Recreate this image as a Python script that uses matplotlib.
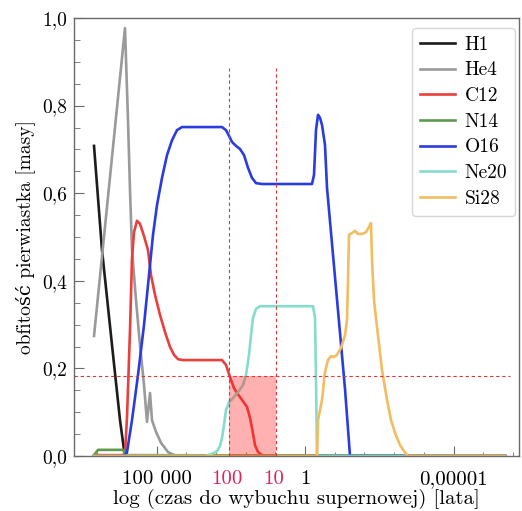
import matplotlib
matplotlib.use("Agg")
import matplotlib.pyplot as plt
from matplotlib.ticker import FixedLocator, MultipleLocator

plt.rcParams['font.family'] = ['cmr10', 'DejaVu Serif']
plt.rcParams['axes.formatter.use_mathtext'] = True

# x axis: -log10(time to supernova [years]); y: mass fraction
X_END = 6.734

h1_x = [-7.104, -6.835, -6.498, -6.229, -6.094, -6.027, X_END]
h1_y = [0.708, 0.470, 0.253, 0.082, 0.014, 0.0, 0.0]

he4_x = [-7.104, -6.061, -5.960, -5.892, -5.825, -5.690, -5.556, -5.421, -5.320,
         -5.219, -5.152, -5.017, -4.848, -4.613, -4.343, X_END]
he4_y = [0.274, 0.977, 0.767, 0.607, 0.470, 0.356, 0.253, 0.162, 0.078,
         0.144, 0.082, 0.055, 0.030, 0.009, 0.0, 0.0]

c12_x = [-7.104, -6.162, -6.061, -5.993, -5.892, -5.825, -5.758, -5.657, -5.556,
         -5.421, -5.286, -5.185, -5.051, -4.882, -4.714, -4.545, -4.411, -4.276,
         -4.108, -2.795, -2.660, -2.525, -2.391, -2.290, -2.121, -1.953, -1.852,
         -1.785, -1.684, -1.582, -1.448, -1.313, X_END]
c12_y = [0.002, 0.002, 0.005, 0.089, 0.288, 0.452, 0.511, 0.537, 0.530,
         0.502, 0.470, 0.413, 0.368, 0.322, 0.283, 0.249, 0.231, 0.221,
         0.219, 0.219, 0.208, 0.180, 0.155, 0.144, 0.128, 0.112, 0.087,
         0.064, 0.025, 0.009, 0.002, 0.0, 0.0]

n14_x = [-7.104, -6.970, -6.128, -6.027, X_END]
n14_y = [0.002, 0.014, 0.014, 0.002, 0.0]

o16_x = [-7.104, -6.162, -6.061, -5.993, -5.825, -5.623, -5.421, -5.219, -5.118,
         -4.983, -4.815, -4.646, -4.478, -4.310, -4.141, -2.795, -2.660, -2.559,
         -2.458, -2.323, -2.189, -2.054, -1.919, -1.785, -1.650, -1.448, 0.236,
         0.303, 0.370, 0.438, 0.505, 0.572, 0.673, 0.741, 0.943, 1.145, 1.347,
         1.515, X_END]
o16_y = [0.0, 0.0, 0.002, 0.009, 0.082, 0.185, 0.299, 0.436, 0.505,
         0.573, 0.635, 0.687, 0.721, 0.744, 0.751, 0.751, 0.744, 0.731,
         0.717, 0.708, 0.701, 0.687, 0.658, 0.635, 0.623, 0.621, 0.621,
         0.642, 0.744, 0.779, 0.772, 0.756, 0.710, 0.612, 0.459, 0.306, 0.153,
         0.0, 0.0]

ne20_x = [-7.104, -3.367, -3.131, -2.963, -2.862, -2.795, -2.727, -2.660, -2.559,
          -2.424, -2.256, -2.088, -1.987, -1.886, -1.818, -1.751, -1.650, -1.515,
          0.269, 0.337, 0.370, 0.404, X_END]
ne20_y = [0.0, 0.0, 0.005, 0.011, 0.023, 0.041, 0.071, 0.105, 0.123,
          0.132, 0.146, 0.162, 0.185, 0.231, 0.276, 0.315, 0.336, 0.342,
          0.342, 0.315, 0.174, 0.0, 0.0]

si28_x = [-7.104, 0.404, 0.438, 0.572, 0.673, 0.774, 0.875, 0.976, 1.077, 1.212,
          1.347, 1.414, 1.448, 1.481, 1.582, 1.684, 1.785, 1.919, 2.054, 2.155,
          2.222, 2.256, 2.323, 2.424, 2.593, 2.761, 2.896, 3.030, 3.199, 3.333,
          3.468, X_END]
si28_y = [0.0, 0.0, 0.082, 0.128, 0.192, 0.219, 0.228, 0.226, 0.231, 0.247,
          0.276, 0.311, 0.402, 0.505, 0.509, 0.514, 0.507, 0.507, 0.511, 0.523,
          0.532, 0.447, 0.356, 0.295, 0.196, 0.128, 0.082, 0.053, 0.025, 0.011,
          0.0, 0.0]

series = [
    ("H1", h1_x, h1_y, "#1c1c1c"),
    ("He4", he4_x, he4_y, "#9a9a9a"),
    ("C12", c12_x, c12_y, "#e8403c"),
    ("N14", n14_x, n14_y, "#5e9a4e"),
    ("O16", o16_x, o16_y, "#2a3ce0"),
    ("Ne20", ne20_x, ne20_y, "#86dccc"),
    ("Si28", si28_x, si28_y, "#f2bc60"),
]

major_ticks = [-5, 0, 5]
major_labels = ["100 000", "1", "0,00001"]
red_ticks = [-2.55, -0.98]
red_labels = ["100", "10"]
y_ticks = [0.0, 0.2, 0.4, 0.6, 0.8, 1.0]
y_labels = ["0,0", "0,2", "0,4", "0,6", "0,8", "1,0"]
threshold = 0.183

fig = plt.figure(figsize=(5.22, 5.11), dpi=100)
ax = fig.add_axes([74/522, 55/511, 445/522, 438/511])

for name, xs, ys, col in series:
    ax.plot(xs, ys, color=col, lw=1.9, label=name, solid_joinstyle='round')

ax.set_xlim(-7.778, 7.205)
ax.set_ylim(0, 1.0)

red = "#d83a3a"
for xv in red_ticks:
    ax.plot([xv, xv], [0, 0.886], color=red, lw=0.8, ls=(0, (3, 2.5)), zorder=4)
ax.plot([-7.778, 6.9], [threshold, threshold], color=red, lw=0.8, ls=(0, (3, 2.5)), zorder=4)
ax.fill_between(red_ticks, [0, 0], [threshold, threshold], color="#ff2020",
                alpha=0.35, lw=0, zorder=3)

ax.xaxis.set_major_locator(FixedLocator(major_ticks))
ax.set_xticklabels(major_labels)
ax.xaxis.set_minor_locator(MultipleLocator(1))
ax.yaxis.set_major_locator(FixedLocator(y_ticks))
ax.set_yticklabels(y_labels)
ax.yaxis.set_minor_locator(MultipleLocator(0.05))

spc = "#6a6a6a"
for s in ax.spines.values():
    s.set_color(spc)
    s.set_linewidth(1.0)
ax.tick_params(axis='x', which='both', direction='in', colors=spc, labelcolor='black',
               labelsize=15, pad=10, top=False)
ax.tick_params(axis='x', which='major', length=7)
ax.tick_params(axis='x', which='minor', length=3)
ax.tick_params(axis='y', which='both', direction='in', colors=spc, labelcolor='black',
               labelsize=14, pad=5, right=False)
ax.tick_params(axis='y', which='major', length=7)
ax.tick_params(axis='y', which='minor', length=4)

for xv, lab in zip(red_ticks, red_labels):
    ax.annotate(lab, xy=(xv, 0), xycoords=('data', 'axes fraction'),
                xytext=(-1.5, -10), textcoords='offset points',
                ha='center', va='top', fontsize=15, color="#e0245a")

ax.set_xlabel("log (czas do wybuchu supernowej) [lata]", fontsize=15, labelpad=1)
ax.set_ylabel("obfitość pierwiastka [masy]", fontsize=14, labelpad=5)

leg = ax.legend(loc='upper right', bbox_to_anchor=(515/522, 1 - 28/511),
                bbox_transform=fig.transFigure, borderaxespad=0, fontsize=14,
                handlelength=1.8, handletextpad=0.5, labelspacing=0.4)

fig.savefig("out.png", dpi=100)
